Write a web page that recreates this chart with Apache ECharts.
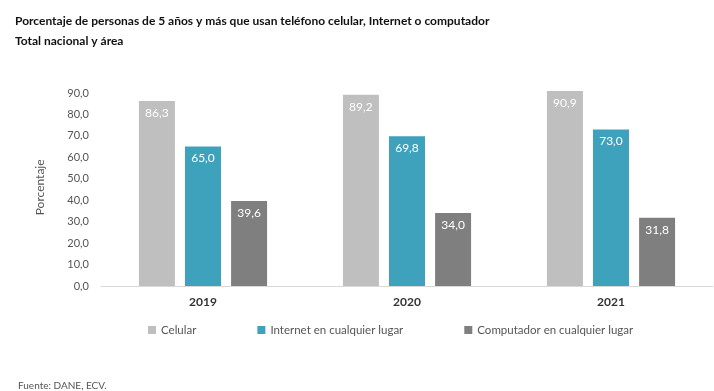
<!DOCTYPE html>
<html>
<head>
<meta charset="utf-8">
<script src="https://cdn.jsdelivr.net/npm/echarts@6/dist/echarts.min.js"></script>
<style>
  html, body { margin: 0; padding: 0; background: #fff; }
  #chart { width: 714px; height: 391px; }
</style>
</head>
<body>
<div id="chart"></div>
<script>
const years = ['2019', '2020', '2021'];
const celular = [86.3, 89.2, 90.9];
const internet = [65.0, 69.8, 73.0];
const computador = [39.6, 34.0, 31.8];
const seriesNames = ['Celular', 'Internet en cualquier lugar', 'Computador en cualquier lugar'];
const colors = ['#BFBFBF', '#3FA2BD', '#7F7F7F'];

const fmt = v => v.toFixed(1).replace('.', ',');
const font = 'Lato, "Open Sans", sans-serif';

const chart = echarts.init(document.getElementById('chart'));

function barSeries(name, data, color) {
  return {
    name: name,
    type: 'bar',
    data: data,
    barWidth: 36,
    barGap: '28%',
    clip: false,
    itemStyle: { color: color },
    label: {
      show: true,
      position: 'insideTop',
      distance: 6,
      color: '#fff',
      fontFamily: font,
      fontSize: 12,
      formatter: p => fmt(p.value)
    }
  };
}

chart.setOption({
  animation: false,
  title: [
    {
      text: 'Porcentaje de personas de 5 años y más que usan teléfono celular, Internet o computador',
      left: 10, top: 10,
      textStyle: { fontFamily: font, fontSize: 12, fontWeight: 'bold', color: '#111' }
    },
    {
      text: 'Total nacional y área',
      left: 10, top: 30,
      textStyle: { fontFamily: font, fontSize: 12, fontWeight: 'bold', color: '#111' }
    },
    {
      text: 'Fuente: DANE, ECV.',
      left: 13, top: 376,
      textStyle: { fontFamily: font, fontSize: 10, fontWeight: 'normal', color: '#555' }
    }
  ],
  color: colors,
  legend: {
    data: seriesNames,
    top: 319,
    left: 143,
    itemWidth: 8,
    itemHeight: 8,
    itemGap: 61,
    icon: 'rect',
    textStyle: { fontFamily: font, fontSize: 11.5, color: '#555' }
  },
  grid: { left: 101, right: 1, top: 88.7, bottom: 105 },
  xAxis: {
    type: 'category',
    data: years,
    axisLine: { lineStyle: { color: '#D9D9D9' } },
    axisTick: { show: false },
    axisLabel: { fontFamily: font, fontSize: 12, fontWeight: 'bold', color: '#333', margin: 10 }
  },
  yAxis: {
    type: 'value',
    min: 0,
    max: 92,
    interval: 10,
    name: 'Porcentaje',
    nameLocation: 'middle',
    nameRotate: 90,
    nameGap: 55,
    nameTextStyle: { fontFamily: font, fontSize: 12, color: '#555' },
    splitLine: { show: false },
    axisLine: { show: false },
    axisTick: { show: false },
    axisLabel: {
      fontFamily: font, fontSize: 11, color: '#555', margin: 12,
      formatter: v => (v % 10 === 0 ? fmt(v) : '')
    }
  },
  series: [
    barSeries(seriesNames[0], celular, colors[0]),
    barSeries(seriesNames[1], internet, colors[1]),
    barSeries(seriesNames[2], computador, colors[2])
  ]
});
</script>
</body>
</html>
